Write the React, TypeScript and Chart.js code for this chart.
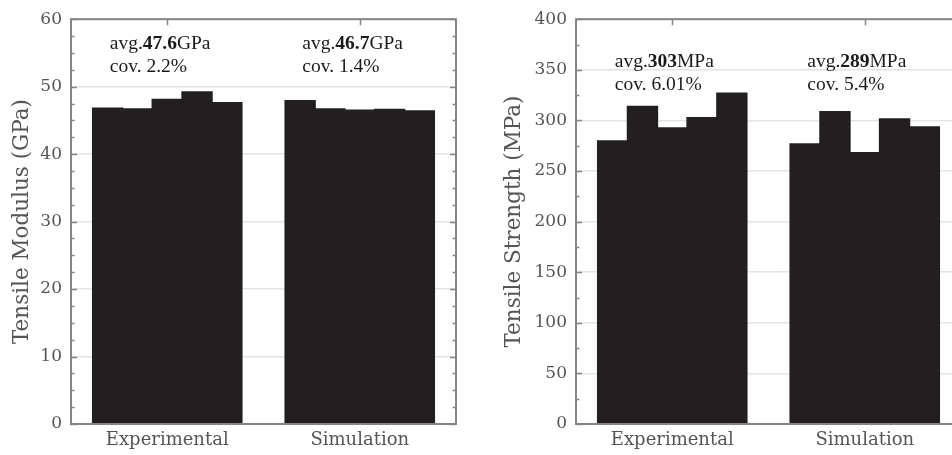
import React, { useEffect, useRef } from "react";
import { Chart, registerables } from "chart.js";

Chart.register(...registerables);

const categories = ["Experimental", "Simulation"];

const modulusExperimental = [46.8, 46.7, 48.1, 49.2, 47.6];
const modulusSimulation = [47.9, 46.7, 46.5, 46.6, 46.4];
const modulusAvg = ["47.6", "46.7"];
const modulusCov = ["2.2%", "1.4%"];

const strengthExperimental = [279.5, 313.7, 292.5, 302.6, 326.7];
const strengthSimulation = [276.6, 308.5, 268.0, 301.3, 293.5];
const strengthAvg = ["303", "289"];
const strengthCov = ["6.01%", "5.4%"];

const BAR = "#231f20";
const AXIS = "#858585";
const TICKTXT = "#555555";
const SERIF = "'DejaVu Serif', serif";
const TIMES = "'Liberation Serif', 'Times New Roman', serif";

const framePlugin = {
  id: "frame",
  afterDraw(chart: any, _args: any, opts: any) {
    const { ctx, chartArea } = chart;
    const { left, right, top, bottom } = chartArea;
    const y = chart.scales.y;
    const x = chart.scales.x;
    ctx.save();
    ctx.strokeStyle = AXIS;
    ctx.lineWidth = 2;
    ctx.strokeRect(left, top, right - left, bottom - top);
    ctx.lineWidth = 1.5;
    ctx.beginPath();
    const minor = opts.minor;
    const major = opts.major;
    for (let v = y.min; v <= y.max + 1e-9; v += minor) {
      const py = Math.round(y.getPixelForValue(v)) + 0.5;
      const isMajor = Math.abs(v / major - Math.round(v / major)) < 1e-6;
      const len = isMajor ? 6 : 3.5;
      ctx.moveTo(left, py);
      ctx.lineTo(left + len, py);
      ctx.moveTo(right, py);
      ctx.lineTo(right - len, py);
    }
    for (let i = 0; i < categories.length; i++) {
      const px = Math.round(x.getPixelForValue(i)) + 0.5;
      ctx.moveTo(px, top);
      ctx.lineTo(px, top + 6);
    }
    ctx.stroke();
    ctx.restore();
  },
  afterDatasetsDraw(chart: any, _args: any, opts: any) {
    const { ctx, chartArea } = chart;
    const meta = chart.getDatasetMeta(0);
    ctx.save();
    ctx.fillStyle = "#1a1a1a";
    ctx.textBaseline = "alphabetic";
    ctx.textAlign = "left";
    for (let i = 0; i < categories.length; i++) {
      const el = meta.data[i];
      const gx = el.x - el.width / 2 + 17;
      const y1 = chartArea.top + opts.textTop;
      const y2 = y1 + 23;
      let cx = gx;
      ctx.font = `19.5px ${TIMES}`;
      ctx.fillText("avg.", cx, y1);
      cx += ctx.measureText("avg.").width;
      ctx.font = `bold 19.5px ${TIMES}`;
      ctx.fillText(opts.avg[i], cx, y1);
      cx += ctx.measureText(opts.avg[i]).width;
      ctx.font = `19.5px ${TIMES}`;
      ctx.fillText(opts.unit, cx, y1);
      ctx.fillText("cov. " + opts.cov[i], gx, y2);
    }
    ctx.restore();
  },
};

function makeConfig(
  exp: number[],
  sim: number[],
  max: number,
  step: number,
  minor: number,
  title: string,
  yWidth: number,
  titlePad: number,
  avg: string[],
  cov: string[],
  unit: string,
  textTop: number
): any {
  const datasets = exp.map((v, k) => ({
    label: `Specimen ${k + 1}`,
    data: [v, sim[k]],
    backgroundColor: BAR,
    borderColor: BAR,
    borderWidth: 0,
    inflateAmount: 0.8,
    categoryPercentage: 0.774,
    barPercentage: 1.0,
  }));
  return {
    type: "bar",
    data: { labels: categories, datasets },
    plugins: [framePlugin],
    options: {
      animation: false,
      responsive: true,
      maintainAspectRatio: false,
      layout: { padding: { top: 16, right: 20, bottom: 0, left: 0 } },
      plugins: {
        legend: { display: false },
        tooltip: { enabled: false },
        frame: { minor, major: step, avg, cov, unit, textTop },
      },
      scales: {
        x: {
          grid: { display: false, drawTicks: false },
          border: { display: false },
          ticks: {
            color: TICKTXT,
            font: { family: SERIF, size: 18 },
            padding: 6,
          },
          afterFit(s: any) {
            s.height = 31;
          },
        },
        y: {
          min: 0,
          max,
          grid: { color: "#e4e4e4", lineWidth: 1.5, drawTicks: false },
          border: { display: false },
          ticks: {
            stepSize: step,
            color: TICKTXT,
            font: { family: SERIF, size: 17 },
            padding: 9,
          },
          title: {
            display: true,
            text: title,
            color: TICKTXT,
            font: { family: SERIF, size: 21.5 },
            padding: { top: titlePad, bottom: 0 },
          },
          afterFit(s: any) {
            s.width = yWidth;
          },
        },
      },
    },
  };
}

function ChartBox(props: { config: any; style: React.CSSProperties }) {
  const ref = useRef<HTMLCanvasElement | null>(null);
  useEffect(() => {
    if (!ref.current) return;
    const chart = new Chart(ref.current, props.config);
    return () => chart.destroy();
  }, []);
  return (
    <div style={{ position: "absolute", top: 0, height: 455, ...props.style }}>
      <canvas ref={ref} />
    </div>
  );
}

export default function App() {
  const left = makeConfig(
    modulusExperimental,
    modulusSimulation,
    60,
    10,
    2.5,
    "Tensile Modulus (GPa)",
    71,
    10,
    modulusAvg,
    modulusCov,
    "GPa",
    30
  );
  const right = makeConfig(
    strengthExperimental,
    strengthSimulation,
    400,
    50,
    25,
    "Tensile Strength (MPa)",
    100,
    26,
    strengthAvg,
    strengthCov,
    "MPa",
    48
  );
  return (
    <div
      style={{
        position: "fixed",
        left: 0,
        top: 0,
        width: 952,
        height: 455,
        overflow: "hidden",
        background: "#ffffff",
      }}
    >
      <ChartBox config={left} style={{ left: 0, width: 476 }} />
      <ChartBox config={right} style={{ left: 476, width: 505 }} />
    </div>
  );
}
